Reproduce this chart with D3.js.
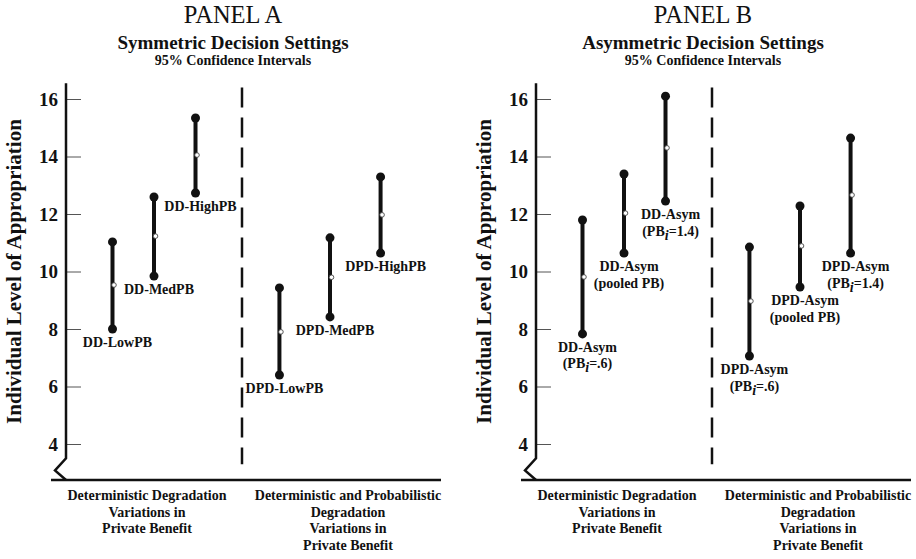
<!DOCTYPE html>
<html>
<head>
<meta charset="utf-8">
<script src="https://cdn.jsdelivr.net/npm/d3@7"></script>
<style>
  body { margin: 0; background: #fff; }
  text { font-family: "Liberation Serif", "Times New Roman", serif; fill: #111; }
</style>
</head>
<body>
<script>

// --- data ---
const panelTitles    = ["PANEL A", "PANEL B"];
const panelSubtitles = ["Symmetric Decision Settings", "Asymmetric Decision Settings"];
const ciNote         = "95% Confidence Intervals";
const yLabel         = "Individual Level of Appropriation";
const yTicks         = [4, 6, 8, 10, 12, 14, 16];
const groupLabels = [
    ["Deterministic Degradation", "Variations in", "Private Benefit"],
    ["Deterministic and Probabilistic", "Degradation", "Variations in", "Private Benefit"]
];

const barGroup = [0, 0, 0, 1, 1, 1];

// panel A - symmetric
const symNames = [["DD-LowPB"], ["DD-MedPB"], ["DD-HighPB"], ["DPD-LowPB"], ["DPD-MedPB"], ["DPD-HighPB"]];
const symLower = [8.00, 9.84, 12.73, 6.40, 8.42, 10.64];
const symMean  = [9.53, 11.23, 14.05, 7.90, 9.80, 11.97];
const symUpper = [11.03, 12.59, 15.34, 9.43, 11.17, 13.29];

// panel B - asymmetric  ("_i" = subscript i)
const asymNames = [
    ["DD-Asym", "(PB_i=.6)"], ["DD-Asym", "(pooled PB)"], ["DD-Asym", "(PB_i=1.4)"],
    ["DPD-Asym", "(PB_i=.6)"], ["DPD-Asym", "(pooled PB)"], ["DPD-Asym", "(PB_i=1.4)"]
];
const asymLower = [7.83, 10.64, 12.45, 7.06, 9.46, 10.64];
const asymMean  = [9.81, 12.03, 14.30, 8.97, 10.89, 12.66];
const asymUpper = [11.79, 13.39, 16.10, 10.85, 12.28, 14.64];


function draw() {
    const width  = 916;
    const height = 559;

    const svg = d3.select('body').append('svg')
        .attr('width', width)
        .attr('height', height);

    const Y = d3.scaleLinear()
        .domain([4, 16])
        .range([444, 99]);

    const panels = [
        { x0: 66,  names: symNames,  lower: symLower,  mean: symMean,  upper: symUpper },
        { x0: 536, names: asymNames, lower: asymLower, mean: asymMean, upper: asymUpper }
    ];

    panels.forEach((p, pi) => {
        const g = svg.append('g');
        const x0 = p.x0;
        const cx = x0 + 167;

        // titles
        g.append('text').attr('x', cx).attr('y', 23)
            .attr('text-anchor', 'middle').style('font-size', '24.5px')
            .text(panelTitles[pi]);
        g.append('text').attr('x', cx).attr('y', 48.5)
            .attr('text-anchor', 'middle').style('font-size', '19px').style('font-weight', 'bold')
            .text(panelSubtitles[pi]);
        g.append('text').attr('x', cx).attr('y', 65)
            .attr('text-anchor', 'middle').style('font-size', '14px').style('font-weight', 'bold')
            .text(ciNote);

        // group scale + point scale inside each group
        const G = d3.scaleBand().domain([0, 1]).range([x0, x0 + 352]);
        const innerPad = [1.12, 0.74];
        const bars = p.names.map((n, i) => ({
            name: n, grp: barGroup[i], lo: p.lower[i], mid: p.mean[i], hi: p.upper[i], key: i
        }));
        const X = [0, 1].map(gi => d3.scalePoint()
            .domain(bars.filter(b => b.grp === gi).map(b => b.key))
            .range([G(gi), G(gi) + G.bandwidth()])
            .padding(innerPad[gi]));
        const bx = b => X[b.grp](b.key);

        // y axis
        const yAxis = d3.axisLeft(Y)
            .tickValues(yTicks)
            .tickSizeInner(-15)
            .tickSizeOuter(0)
            .tickPadding(8);

        g.append('g')
            .attr('transform', `translate(${x0} 0)`)
            .call(yAxis)
            .call(a => a.select('.domain').remove())
            .call(a => a.selectAll('.tick line').attr('stroke', '#555').attr('stroke-width', 1))
            .call(a => a.selectAll('.tick text')
                .attr('fill', '#111')
                .style('font-family', '"Liberation Serif", serif')
                .style('font-size', '19px').style('font-weight', 'bold'));

        // axis line with break mark, and base line
        g.append('path')
            .attr('d', `M${x0},${Y(16.55)}V${Y(3.5)}L${x0 - 11},${Y(3.08)}L${x0},${Y(2.75)}`)
            .attr('fill', 'none').attr('stroke', '#111').attr('stroke-width', 2.5);
        g.append('path')
            .attr('d', `M${x0 - 15},${Y(2.75)}H${x0 + 375}`)
            .attr('stroke', '#111').attr('stroke-width', 2.5);

        // dashed divider
        g.append('line')
            .attr('x1', G(1)).attr('x2', G(1))
            .attr('y1', Y(16.4)).attr('y2', Y(3.3))
            .attr('stroke', '#111').attr('stroke-width', 2.5)
            .attr('stroke-dasharray', '20,10');

        // y label
        g.append('text')
            .attr('transform', `translate(${x0 - 45},${Y(10)}) rotate(-90)`)
            .attr('text-anchor', 'middle')
            .style('font-size', '21px').style('font-weight', 'bold')
            .text(yLabel);

        // group labels
        const labelDx = [-7, 18];
        groupLabels.forEach((lines, gi) => {
            const t = g.append('text')
                .attr('text-anchor', 'middle')
                .style('font-size', '14px').style('font-weight', 'bold');
            lines.forEach((l, li) => {
                t.append('tspan')
                    .attr('x', G(gi) + G.bandwidth() / 2 + labelDx[gi])
                    .attr('y', 500 + li * 16.7)
                    .text(l);
            });
        });

        // confidence intervals
        const bar = g.selectAll('.ci').data(bars).join('g').attr('class', 'ci');
        bar.append('line')
            .attr('x1', bx).attr('x2', bx)
            .attr('y1', d => Y(d.lo)).attr('y2', d => Y(d.hi))
            .attr('stroke', '#111').attr('stroke-width', 4);
        bar.selectAll('.end').data(d => [d.lo, d.hi].map(v => ({ x: bx(d), v })))
            .join('circle').attr('class', 'end')
            .attr('cx', d => d.x).attr('cy', d => Y(d.v))
            .attr('r', 4.5).attr('fill', '#111');
        bar.append('circle')
            .attr('cx', d => bx(d) + 1.5).attr('cy', d => Y(d.mid))
            .attr('r', 2.3).attr('fill', '#fff')
            .attr('stroke', '#444').attr('stroke-width', 0.9);

        // bar labels
        bar.each(function (d) {
            const t = d3.select(this).append('text')
                .attr('text-anchor', 'middle')
                .style('font-size', '14px').style('font-weight', 'bold');
            d.name.forEach((line, li) => {
                const ts = t.append('tspan')
                    .attr('x', bx(d) + 5)
                    .attr('y', Y(d.lo) + 18 + li * 16.5);
                if (line.includes('_i')) {
                    const parts = line.split('_i');
                    ts.append('tspan').text(parts[0]);
                    ts.append('tspan').attr('dy', 4).style('font-style', 'italic').text('i');
                    ts.append('tspan').attr('dy', -4).text(parts[1]);
                } else {
                    ts.text(line);
                }
            });
        });
    });
}

draw();
</script>
</body>
</html>
